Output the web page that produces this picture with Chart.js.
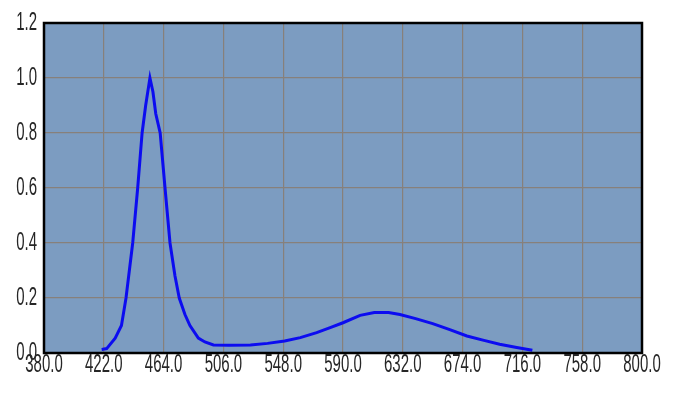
<!DOCTYPE html>
<html>
<head>
<meta charset="utf-8">
<script src="https://cdn.jsdelivr.net/npm/chart.js@4.4.1/dist/chart.umd.min.js"></script>
<style>
  html, body { margin: 0; padding: 0; background: #ffffff; }
  canvas { display: block; }
</style>
</head>
<body>
<canvas id="spectrum" width="678" height="394"></canvas>
<script>
// wavelength (nm) and relative intensity
const wavelengths = [420.5, 424, 430, 434.4, 437.6, 442.3, 445.8, 448.9, 451.4, 454.4, 456.5, 458.5,
  461.6, 465, 468.5, 472, 475, 479, 482.5, 488.4, 493, 499, 510, 525, 537, 549, 560, 571.5,
  581, 590, 602, 612, 622, 630, 641, 653, 665, 677, 689, 700, 712, 723];
const intensity = [0.013, 0.016, 0.054, 0.1, 0.2, 0.4, 0.6, 0.8, 0.9, 1.0, 0.95, 0.87,
  0.8, 0.6, 0.4, 0.28, 0.2, 0.14, 0.1, 0.054, 0.04, 0.029, 0.028, 0.029, 0.035, 0.044, 0.056, 0.074,
  0.092, 0.11, 0.137, 0.147, 0.147, 0.14, 0.125, 0.107, 0.085, 0.062, 0.046, 0.032, 0.02, 0.01];

const xTickLabels = ['380.0', '422.0', '464.0', '506.0', '548.0', '590.0', '632.0', '674.0', '716.0', '758.0', '800.0'];
const yTickLabels = ['0.0', '0.2', '0.4', '0.6', '0.8', '1.0', '1.2'];

// condensed tick labels + frame like the original plot
const framePlugin = {
  id: 'frame',
  beforeDraw(chart) {
    const { ctx, chartArea: a } = chart;
    ctx.save();
    ctx.fillStyle = '#7c9cc1';
    ctx.fillRect(a.left, a.top, a.right - a.left, a.bottom - a.top);
    ctx.restore();
  },
  afterDraw(chart) {
    const { ctx, chartArea: a, scales } = chart;
    ctx.save();
    ctx.strokeStyle = '#000000';
    ctx.lineWidth = 2.5;
    ctx.strokeRect(a.left, a.top, a.right - a.left, a.bottom - a.top);

    ctx.fillStyle = '#262626';
    ctx.font = '25px "Liberation Sans", Arial, sans-serif';
    const sx = 0.6;

    ctx.textBaseline = 'middle';
    ctx.textAlign = 'center';
    scales.x.ticks.forEach((t, i) => {
      const px = scales.x.getPixelForValue(t.value);
      ctx.save();
      ctx.translate(px, a.bottom + 12);
      ctx.scale(sx, 1);
      ctx.fillText(xTickLabels[i], 0, 0);
      ctx.restore();
    });

    ctx.textAlign = 'right';
    scales.y.ticks.forEach((t, i) => {
      const py = scales.y.getPixelForValue(t.value);
      ctx.save();
      ctx.translate(a.left - 7, py);
      ctx.scale(sx, 1);
      ctx.fillText(yTickLabels[i], 0, 0);
      ctx.restore();
    });
    ctx.restore();
  }
};

new Chart(document.getElementById('spectrum').getContext('2d'), {
  type: 'line',
  data: {
    datasets: [{
      data: wavelengths.map((w, i) => ({ x: w, y: intensity[i] })),
      borderColor: '#0c0cf0',
      borderWidth: 3,
      pointRadius: 0,
      tension: 0,
      fill: false
    }]
  },
  options: {
    responsive: false,
    animation: false,
    layout: { padding: { left: 44, top: 23, right: 36, bottom: 41 } },
    plugins: { legend: { display: false }, tooltip: { enabled: false } },
    scales: {
      x: {
        type: 'linear',
        min: 380,
        max: 800,
        ticks: { stepSize: 42, display: false },
        grid: { color: '#87807b', lineWidth: 1.2, drawTicks: false },
        border: { display: false }
      },
      y: {
        min: 0,
        max: 1.2,
        ticks: { stepSize: 0.2, display: false },
        grid: { color: '#87807b', lineWidth: 1.2, drawTicks: false },
        border: { display: false }
      }
    }
  },
  plugins: [framePlugin]
});
</script>
</body>
</html>
